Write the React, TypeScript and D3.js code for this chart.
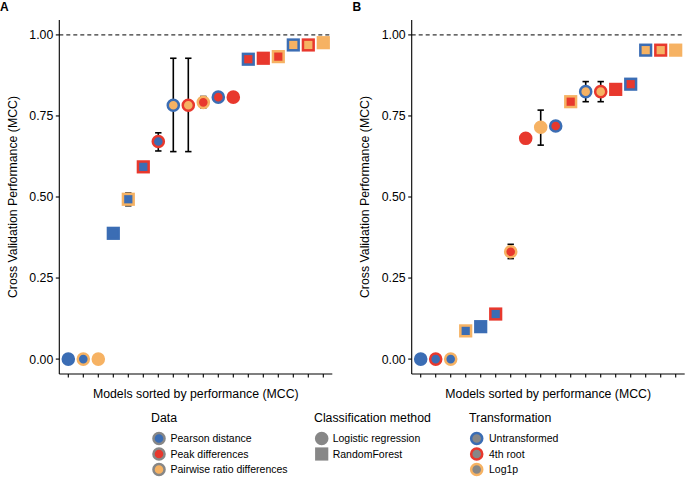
import React from "react";
import * as d3 from "d3";

const dataLevels = ["Pearson distance", "Peak differences", "Pairwise ratio differences"];
const methodLevels = ["Logistic regression", "RandomForest"];
const transformLevels = ["Untransformed", "4th root", "Log1p"];

// Panel A
const aData = [0, 0, 2, 0, 0, 0, 0, 2, 2, 1, 1, 1, 1, 1, 1, 2, 2, 2];
const aTransform = [0, 2, 2, 0, 2, 1, 1, 0, 1, 2, 0, 1, 0, 1, 2, 0, 1, 2];
const aMethod = [0, 0, 0, 1, 1, 1, 0, 0, 0, 0, 0, 0, 1, 1, 1, 1, 1, 1];
const aMcc = [0, 0, 0, 0.388, 0.493, 0.593, 0.671, 0.783, 0.783, 0.792, 0.808, 0.808, 0.925, 0.928, 0.933, 0.969, 0.969, 0.976];
const aLo: (number | null)[] = [null, null, null, null, 0.473, null, 0.642, 0.64, 0.64, 0.775, null, null, null, null, null, null, null, null];
const aHi: (number | null)[] = [null, null, null, null, 0.512, null, 0.698, 0.928, 0.928, 0.81, null, null, null, null, null, null, null, null];

// Panel B
const bData = [0, 0, 0, 0, 0, 0, 1, 1, 2, 1, 1, 2, 2, 1, 1, 2, 2, 2];
const bTransform = [0, 1, 2, 2, 0, 1, 2, 1, 2, 0, 2, 0, 1, 1, 0, 0, 1, 2];
const bMethod = [0, 0, 0, 1, 1, 1, 0, 0, 0, 0, 1, 0, 0, 1, 1, 1, 1, 1];
const bMcc = [0, 0, 0, 0.087, 0.1, 0.139, 0.331, 0.681, 0.715, 0.719, 0.794, 0.825, 0.825, 0.832, 0.848, 0.953, 0.953, 0.953];
const bLo: (number | null)[] = [null, null, null, null, null, null, 0.31, null, 0.66, null, null, 0.794, 0.794, null, null, null, null, null];
const bHi: (number | null)[] = [null, null, null, null, null, null, 0.354, null, 0.768, null, null, 0.856, 0.856, null, null, null, null, null];

const yTicks = [0, 0.25, 0.5, 0.75, 1.0];

const palette = ["#3b6db4", "#e8382d", "#f6b263"];
const gray = "#878787";
const FONT = "'Liberation Sans', Arial, Helvetica, sans-serif";

function Marker({ cx, cy, shape, fill, stroke }: { cx: number; cy: number; shape: number; fill: string; stroke: string }) {
  const sw = 2.5;
  if (shape === 0) {
    const r = 6.8 - sw / 2;
    return <circle cx={cx} cy={cy} r={r} fill={fill} stroke={stroke} strokeWidth={sw} />;
  }
  const s = 13.2 - sw;
  return <rect x={cx - s / 2} y={cy - s / 2} width={s} height={s} fill={fill} stroke={stroke} strokeWidth={sw} />;
}

function Panel({ left, label, data, transform, method, mcc, lo, hi }: any) {
  const n = mcc.length;
  const x = d3.scaleLinear().domain([0.4, n + 0.6]).range([left, left + 273]);
  const y = d3.scaleLinear().domain([-0.046, 1.046]).range([374, 20]);
  const idx = d3.range(n);
  const fmt = d3.format(".2f");
  const [x0, x1] = x.range();
  return (
    <g>
      <text x={left - 59.3} y={11} fontSize={12} fontWeight="bold" fontFamily={FONT}>{label}</text>
      <line x1={x0} x2={x1} y1={y(1)} y2={y(1)} stroke="#000" strokeWidth={1} strokeDasharray="4,3" />
      <line x1={x0} x2={x0} y1={y.range()[1]} y2={y.range()[0]} stroke="#000" strokeWidth={1.1} />
      <line x1={x0} x2={x1} y1={y.range()[0]} y2={y.range()[0]} stroke="#000" strokeWidth={1.1} />
      {yTicks.map((t) => (
        <g key={t}>
          <line x1={x0 - 3.5} x2={x0} y1={y(t)} y2={y(t)} stroke="#000" strokeWidth={1.1} />
          <text x={x0 - 6} y={y(t)} dy="0.36em" textAnchor="end" fontSize={12.3} fontFamily={FONT} fill="#000">{fmt(t)}</text>
        </g>
      ))}
      {idx.map((i) => (
        <line key={i} x1={x(i + 1)} x2={x(i + 1)} y1={374} y2={377.5} stroke="#000" strokeWidth={1.1} />
      ))}
      <text transform={`translate(${x0 - 47},${y(0.5)}) rotate(-90)`} dy="0.36em" textAnchor="middle" fontSize={12.3} fontFamily={FONT} fill="#000">Cross Validation Performance (MCC)</text>
      <text x={(x0 + x1) / 2} y={398} textAnchor="middle" fontSize={12.3} fontFamily={FONT} fill="#000">Models sorted by performance (MCC)</text>
      {idx.filter((i) => lo[i] != null).map((i) => (
        <g key={"e" + i} stroke="#000" strokeWidth={1.6}>
          <line x1={x(i + 1)} x2={x(i + 1)} y1={y(lo[i])} y2={y(hi[i])} />
          <line x1={x(i + 1) - 3.2} x2={x(i + 1) + 3.2} y1={y(lo[i])} y2={y(lo[i])} />
          <line x1={x(i + 1) - 3.2} x2={x(i + 1) + 3.2} y1={y(hi[i])} y2={y(hi[i])} />
        </g>
      ))}
      {idx.map((i) => (
        <Marker key={"p" + i} cx={x(i + 1)} cy={y(mcc[i])} shape={method[i]} fill={palette[data[i]]} stroke={palette[transform[i]]} />
      ))}
    </g>
  );
}

function Legend() {
  const rows = [438.5, 454, 469.5];
  return (
    <g fontFamily={FONT}>
      <text x={151} y={422} fontSize={12.3} fill="#000">Data</text>
      {dataLevels.map((d, i) => (
        <g key={d}>
          <Marker cx={159} cy={rows[i]} shape={0} fill={palette[i]} stroke={gray} />
          <text x={170.5} y={rows[i]} dy="0.36em" fontSize={10.5} fill="#000">{d}</text>
        </g>
      ))}
      <text x={314} y={422} fontSize={12.3} fill="#000">Classification method</text>
      {methodLevels.map((d, i) => (
        <g key={d}>
          <Marker cx={321.7} cy={rows[i]} shape={i} fill={gray} stroke={gray} />
          <text x={332.7} y={rows[i]} dy="0.36em" fontSize={10.5} fill="#000">{d}</text>
        </g>
      ))}
      <text x={469} y={422} fontSize={12.3} fill="#000">Transformation</text>
      {transformLevels.map((d, i) => (
        <g key={d}>
          <Marker cx={476.7} cy={rows[i]} shape={0} fill={gray} stroke={palette[i]} />
          <text x={489} y={rows[i]} dy="0.36em" fontSize={10.5} fill="#000">{d}</text>
        </g>
      ))}
    </g>
  );
}

export default function App() {
  return (
    <svg width={685} height={477} style={{ position: "absolute", left: 0, top: 0, background: "#fff" }}>
      <rect width={685} height={477} fill="#fff" />
      <Panel left={59.3} label="A" data={aData} transform={aTransform} method={aMethod} mcc={aMcc} lo={aLo} hi={aHi} />
      <Panel left={411.7} label="B" data={bData} transform={bTransform} method={bMethod} mcc={bMcc} lo={bLo} hi={bHi} />
      <Legend />
    </svg>
  );
}
